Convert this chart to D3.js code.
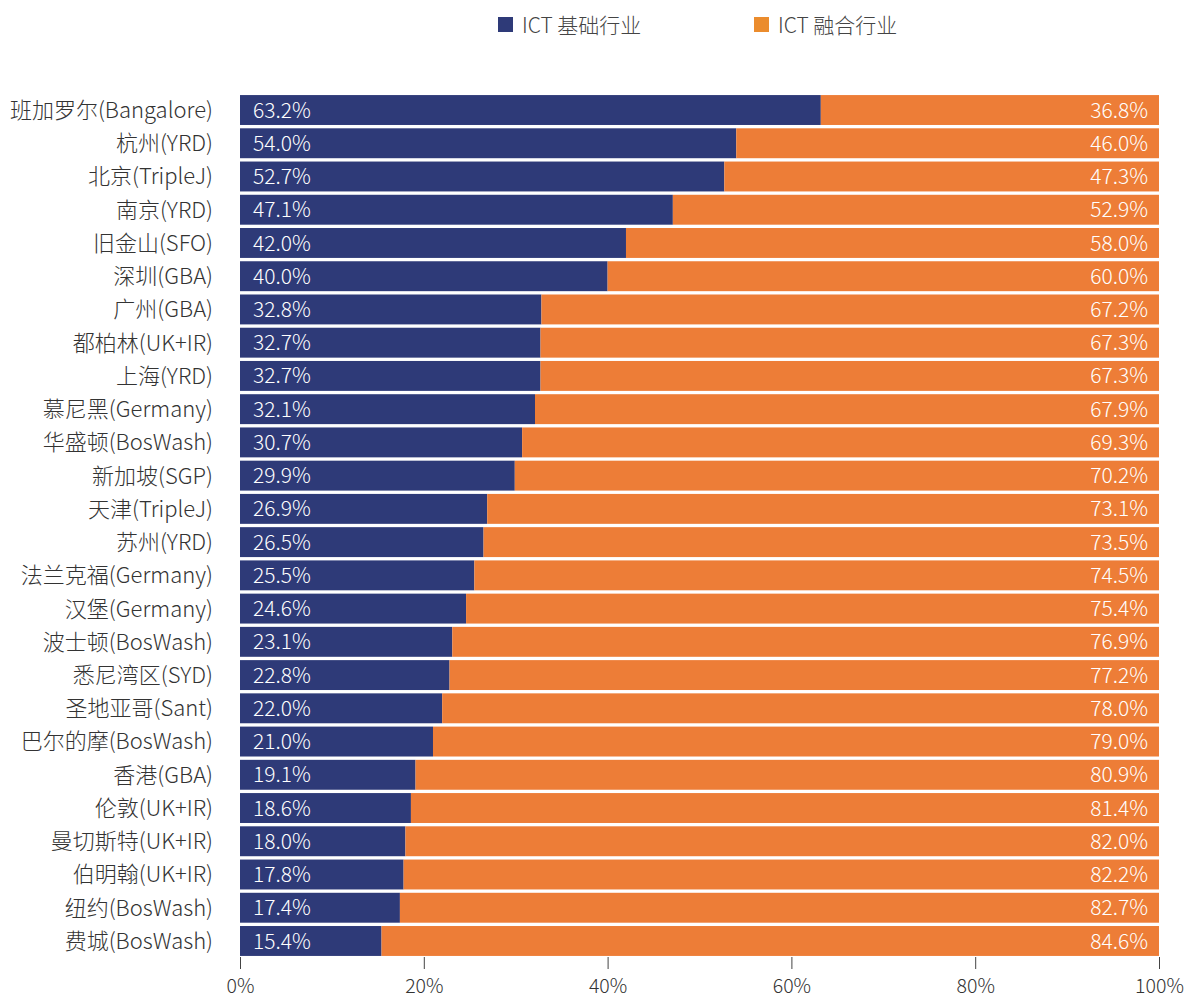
<!DOCTYPE html>
<html><head><meta charset="utf-8">
<script src="https://cdn.jsdelivr.net/npm/d3@7"></script>
<style>body{margin:0;background:#fff;} svg{display:block;font-family:"Noto Sans CJK SC","Noto Sans",sans-serif;font-weight:300;}</style>
</head><body>
<svg id="c" width="1189" height="1000"></svg>
<script>
const cities = ["班加罗尔(Bangalore)","杭州(YRD)","北京(TripleJ)","南京(YRD)","旧金山(SFO)","深圳(GBA)","广州(GBA)","都柏林(UK+IR)","上海(YRD)","慕尼黑(Germany)","华盛顿(BosWash)","新加坡(SGP)","天津(TripleJ)","苏州(YRD)","法兰克福(Germany)","汉堡(Germany)","波士顿(BosWash)","悉尼湾区(SYD)","圣地亚哥(Sant)","巴尔的摩(BosWash)","香港(GBA)","伦敦(UK+IR)","曼切斯特(UK+IR)","伯明翰(UK+IR)","纽约(BosWash)","费城(BosWash)"];
const basic = [63.2,54.0,52.7,47.1,42.0,40.0,32.8,32.7,32.7,32.1,30.7,29.9,26.9,26.5,25.5,24.6,23.1,22.8,22.0,21.0,19.1,18.6,18.0,17.8,17.4,15.4];
const fusion = [36.8,46.0,47.3,52.9,58.0,60.0,67.2,67.3,67.3,67.9,69.3,70.2,73.1,73.5,74.5,75.4,76.9,77.2,78.0,79.0,80.9,81.4,82.0,82.2,82.7,84.6];
const seriesNames = ["ICT 基础行业","ICT 融合行业"];
const xTicks = [0,20,40,60,80,100];

const navy = "#2e3a78", orange = "#ed7d37", legendOrange = "#eb8c2d";
const svg = d3.select("#c");
const x = d3.scaleLinear().domain([0,100]).range([240,1159]);
const y = d3.scaleBand().domain(cities).range([93.4,957.6]).paddingInner(0.1).paddingOuter(0.05);

const rows = svg.append("g").selectAll("g").data(cities).join("g");
rows.append("rect").attr("x", x(0)).attr("y", d=>y(d)).attr("height", y.bandwidth())
  .attr("width", (d,i)=>x(basic[i])-x(0)).attr("fill", navy);
rows.append("rect").attr("x", (d,i)=>x(basic[i])).attr("y", d=>y(d)).attr("height", y.bandwidth())
  .attr("width", (d,i)=>x(100)-x(basic[i])).attr("fill", orange);
rows.append("text").attr("x", x(0)+13).attr("y", d=>y(d)+y.bandwidth()/2).attr("dy","0.36em")
  .attr("fill","#fff").attr("font-size",21).text((d,i)=>basic[i].toFixed(1)+"%");
rows.append("text").attr("x", x(100)-11).attr("y", d=>y(d)+y.bandwidth()/2).attr("dy","0.36em")
  .attr("text-anchor","end").attr("fill","#fff").attr("font-size",21).text((d,i)=>fusion[i].toFixed(1)+"%");
rows.append("text").attr("x", 213).attr("y", d=>y(d)+y.bandwidth()/2).attr("dy","0.36em")
  .attr("text-anchor","end").attr("fill","#333").attr("font-size",22).text(d=>d);

const ax = svg.append("g").attr("transform","translate(0,957)")
  .call(d3.axisBottom(x).tickValues(xTicks).tickFormat(d=>d+"%").tickSize(12).tickPadding(10));
ax.select(".domain").remove();
ax.selectAll("line").attr("stroke","#444");
ax.selectAll("text").attr("font-size",19.5).attr("fill","#333").attr("font-weight",300).attr("font-family","'Noto Sans CJK SC','Noto Sans',sans-serif");

const leg = svg.append("g");
const legX = [498, 754];
const legC = [navy, legendOrange];
seriesNames.forEach((n,i)=>{
  leg.append("rect").attr("x",legX[i]).attr("y",17).attr("width",15).attr("height",15).attr("fill",legC[i]);
  leg.append("text").attr("x",legX[i]+24).attr("y",25).attr("dy","0.36em").attr("font-size",21).attr("fill","#444").text(n);
});
</script>
</body></html>
